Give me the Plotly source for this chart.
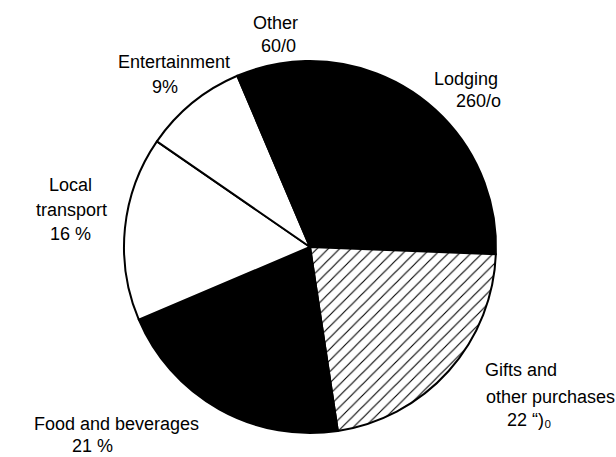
import plotly.graph_objects as go

# Shares of spending by category (percent)
categories = ["Lodging", "Gifts and other purchases", "Food and beverages",
              "Local transport", "Entertainment", "Other"]
shares = [26, 22, 21, 16, 9, 6]

# Label lines as printed beside each slice
label_lines = [
    ["Lodging", "260/o"],
    ["Gifts and", "other purchases", "22 \u201c)\u2080"],
    ["Food and beverages", "21 %"],
    ["Local", "transport", "16 %"],
    ["Entertainment", "9%"],
    ["Other", "60/0"],
]

fills = ["black", "white", "black", "white", "white", "black"]
patterns = ["", "/", "", "", "", ""]

W, H = 616, 457
CX, CY, R = 310, 247, 186

fig = go.Figure(go.Pie(
    labels=categories,
    values=shares,
    sort=False,
    direction="clockwise",
    rotation=-1.4,
    textinfo="none",
    hoverinfo="label+percent",
    showlegend=False,
    marker=dict(
        colors=fills,
        line=dict(color="black", width=2),
        pattern=dict(shape=patterns, fgcolor="black", bgcolor="white",
                     size=8, solidity=0.14),
    ),
    domain=dict(x=[(CX - R) / W, (CX + R) / W],
                y=[(H - CY - R) / H, (H - CY + R) / H]),
))

# Pixel centres for each printed line
line_pos = [
    [(466, 79), (478, 101)],
    [(521, 370), (550, 397), (529, 420)],
    [(116, 424), (92, 446)],
    [(70, 185), (71, 210), (70, 234)],
    [(174, 62), (165, 87)],
    [(275, 23), (278, 46)],
]

for lines, poss in zip(label_lines, line_pos):
    for txt, (px, py) in zip(lines, poss):
        fig.add_annotation(
            x=px / W, y=1 - py / H, xref="paper", yref="paper",
            text=txt, showarrow=False, xanchor="center", yanchor="middle",
            font=dict(family="Liberation Sans, Arial, sans-serif", size=18,
                      color="black"),
        )

fig.update_layout(
    width=W, height=H,
    margin=dict(l=0, r=0, t=0, b=0),
    paper_bgcolor="white",
    plot_bgcolor="white",
)

fig.write_html("out.html")
